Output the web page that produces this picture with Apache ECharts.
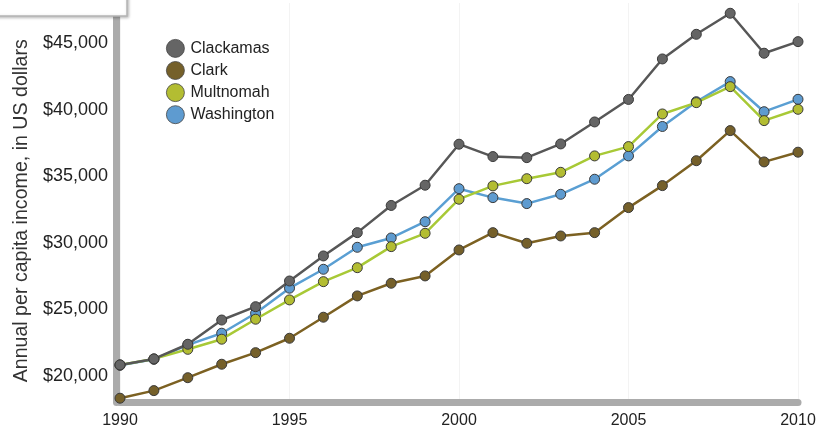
<!DOCTYPE html>
<html>
<head>
<meta charset="utf-8">
<script src="https://cdn.jsdelivr.net/npm/echarts@6/dist/echarts.min.js"></script>
<style>
html,body{margin:0;padding:0;background:#fff;}
#chart{width:825px;height:434px;}
</style>
</head>
<body>
<div id="chart"></div>
<script>
const years = [1990,1991,1992,1993,1994,1995,1996,1997,1998,1999,2000,2001,2002,2003,2004,2005,2006,2007,2008,2009,2010];
const clackamas = [20830,21280,22380,24200,25200,27130,29010,30760,32800,34320,37400,36470,36390,37420,39070,40760,43800,45650,47230,44230,45100];
const clark = [18330,18900,19870,20880,21750,22830,24410,26010,26960,27510,29460,30760,29960,30510,30760,32640,34290,36160,38420,36070,36800];
const multnomah = [20830,21280,22000,22760,24260,25710,27080,28130,29710,30710,33270,34270,34810,35290,36520,37220,39670,40520,41720,39170,40020];
const washington = [20800,21250,22330,23210,24710,26590,28010,29660,30360,31580,34060,33390,32940,33640,34770,36520,38730,40590,42100,39840,40770];
const yTicks = [20000,25000,30000,35000,40000,45000];
const xTicks = [1990,1995,2000,2005,2010];
const seriesNames = ['Clackamas','Clark','Multnomah','Washington'];
const yAxisName = 'Annual per capita income, in US dollars';

const chart = echarts.init(document.getElementById('chart'), null, {renderer:'canvas'});
function pairs(arr){ return years.map((y,i)=>[y,arr[i]]); }
const styles = {
  'Clackamas': {line:'#575757', fill:'#656565'},
  'Clark': {line:'#7c6122', fill:'#75602a'},
  'Multnomah': {line:'#a8c936', fill:'#b3bd32'},
  'Washington': {line:'#5a9fd3', fill:'#5e9bd0'}
};
const dataMap = {'Clackamas':clackamas,'Clark':clark,'Multnomah':multnomah,'Washington':washington};
const drawOrder = ['Clark','Washington','Multnomah','Clackamas'];

chart.setOption({
  backgroundColor:'#fff',
  animation:false,
  grid:{left:120, right:27, top:3, bottom:31.4},
  legend:{
    data: seriesNames.map(n=>({name:n, itemStyle:{color:styles[n].fill, borderColor:'#444', borderWidth:0.8}})),
    orient:'vertical', left:161, top:34, icon:'circle',
    itemWidth:18, itemHeight:18, itemGap:3.3,
    textStyle:{fontFamily:'Liberation Sans', fontSize:16, color:'#222', padding:[0,0,0,1]}
  },
  xAxis:{
    type:'value', min:1990, max:2010, interval:5,
    axisLine:{show:true, lineStyle:{color:'#ababab', width:7}},
    axisTick:{show:false},
    axisLabel:{customValues:xTicks, formatter:v=>String(v), margin:10, fontFamily:'Liberation Sans', fontSize:16, color:'#222'},
    splitLine:{show:true, lineStyle:{color:'#f3f3f3', width:1}}
  },
  yAxis:{
    type:'value', min:18000, max:48000,
    offset:4,
    name:yAxisName, nameLocation:'middle', nameRotate:90, nameGap:79,
    nameTextStyle:{fontFamily:'Liberation Sans', fontSize:19.6, color:'#333', padding:[0,16,0,0]},
    axisLine:{show:true, lineStyle:{color:'#ababab', width:7}},
    axisTick:{show:false},
    axisLabel:{customValues:yTicks, margin:8, fontFamily:'Liberation Sans', fontSize:18, color:'#222',
      formatter:v=>'$'+v.toLocaleString('en-US')},
    splitLine:{show:false}
  },
  graphic:[{
    type:'rect', z:100, shape:{x:-5,y:-5,width:132,height:21},
    style:{fill:'#fff', stroke:'#b5b5b5', lineWidth:1.5, shadowBlur:3, shadowColor:'rgba(0,0,0,0.25)', shadowOffsetX:1, shadowOffsetY:1}
  }],
  series: drawOrder.map(n=>({
    name:n, type:'line', data:pairs(dataMap[n]),
    symbol:'circle', symbolSize:10,
    lineStyle:{color:styles[n].line, width:2.5},
    itemStyle:{color:styles[n].fill, borderColor:'#3a3a3a', borderWidth:1},
    emphasis:{disabled:true}
  }))
});
</script>
</body>
</html>
